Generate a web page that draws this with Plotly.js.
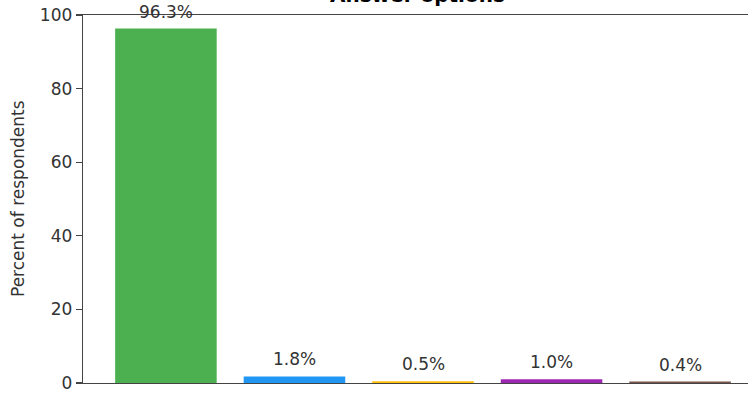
<!DOCTYPE html>
<html>
<head>
<meta charset="utf-8">
<script src="https://cdn.plot.ly/plotly-3.0.1.min.js"></script>
<style>
  html, body { margin: 0; padding: 0; background: #fff; overflow: hidden; width: 748px; height: 398px; }
  #chart { width: 782px; height: 398px; }
</style>
</head>
<body>
<div id="chart"></div>
<script>
// Data
const categories = ["Option 1", "Option 2", "Option 3", "Option 4", "Option 5"];
const percents = [96.3, 1.8, 0.5, 1.0, 0.4];
const barColors = ["#4CAF50", "#2196F3", "#FFC107", "#9C27B0", "#795548"];
const yTicks = [0, 20, 40, 60, 80, 100];
const titleText = "Answer options";
const yLabel = "Percent of respondents";

const FONT = "DejaVu Sans, sans-serif";
const TXT = "#333333";

const trace = {
  type: "bar",
  x: categories,
  y: percents,
  width: 0.79,
  marker: { color: barColors, line: { width: 0 } },
  hoverinfo: "skip"
};

const annotations = percents.map((v, i) => ({
  x: categories[i], y: v, xref: "x", yref: "y",
  text: v.toFixed(1) + "%",
  showarrow: false, yanchor: "bottom", xanchor: "center",
  yshift: 5,
  font: { family: FONT, size: 17, color: TXT }
}));

annotations.push({
  x: 0.5, y: 1, xref: "paper", yref: "paper",
  text: "<b>" + titleText + "</b>", showarrow: false,
  xanchor: "center", yanchor: "bottom", yshift: 6, xshift: -6,
  font: { family: FONT, size: 20, color: "#000" }
});

annotations.push({
  x: (18 - 83) / 680, y: 0.5, xref: "paper", yref: "paper",
  text: yLabel, textangle: -90, showarrow: false,
  xanchor: "center", yanchor: "middle",
  font: { family: FONT, size: 17, color: TXT }
});

const layout = {
  width: 782, height: 398,
  margin: { l: 83, r: 19, t: 15, b: 15, pad: 0 },
  paper_bgcolor: "#fff", plot_bgcolor: "#fff",
  showlegend: false,
  xaxis: {
    type: "category",
    range: [-0.645, 4.645],
    showticklabels: false, ticks: "",
    showgrid: false, zeroline: false,
    showline: true, mirror: true, linecolor: "#444", linewidth: 1.3
  },
  yaxis: {
    range: [0, 100],
    tickvals: yTicks, ticktext: yTicks.map(String),
    ticks: "outside", ticklen: 6, tickwidth: 1.3, tickcolor: "#444",
    tickfont: { family: FONT, size: 17, color: TXT },
    showgrid: false, zeroline: false,
    showline: true, mirror: true, linecolor: "#444", linewidth: 1.3
  },
  annotations: annotations
};

Plotly.newPlot("chart", [trace], layout, { displayModeBar: false, staticPlot: true });
</script>
</body>
</html>
